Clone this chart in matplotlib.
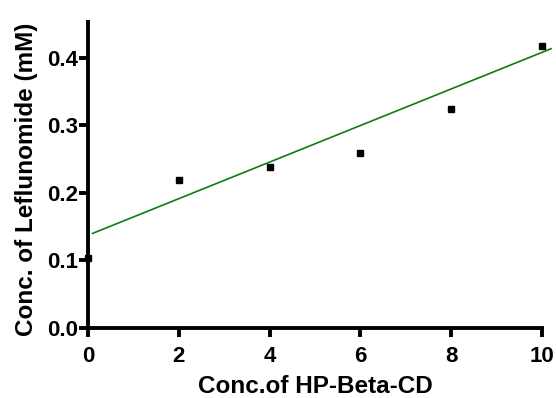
import matplotlib
matplotlib.use("Agg")
import matplotlib.pyplot as plt
import numpy as np

plt.rcParams['font.family'] = ['Liberation Sans', 'DejaVu Sans']

# Measured solubility data
hp_beta_cd = [0, 2, 4, 6, 8, 10]
leflunomide = [0.103, 0.219, 0.238, 0.259, 0.324, 0.417]

# Linear regression line parameters
fit_slope = 0.0271
fit_intercept = 0.137
fit_x_range = [0.1, 10.2]

x_ticks = [0, 2, 4, 6, 8, 10]
y_ticks = [0.0, 0.1, 0.2, 0.3, 0.4]

fig = plt.figure(figsize=(5.56, 3.98), dpi=100)
W, H = 556, 398
x0_px, x10_px = 88, 542
y0_px, top_px = 327.7, 22
px_per_x = (x10_px - x0_px) / 10
xmax = 10.25
ymax = 0.453
ax_w = xmax * px_per_x
ax_h = y0_px - top_px
ax = fig.add_axes([x0_px / W, (H - y0_px) / H, ax_w / W, ax_h / H])

fx = np.array(fit_x_range)
ax.plot(fx, fit_intercept + fit_slope * fx, color='#127a12', lw=1.2, zorder=2)
ax.plot(hp_beta_cd, leflunomide, linestyle='none', marker='s', ms=5,
        color='black', clip_on=False, zorder=3)

ax.set_xlim(0, xmax)
ax.set_ylim(0, ymax)
ax.set_xticks(x_ticks)
ax.set_yticks(y_ticks)
ax.set_yticklabels([f"{v:.1f}" for v in y_ticks])

for side in ('top', 'right'):
    ax.spines[side].set_visible(False)
for side in ('left', 'bottom'):
    ax.spines[side].set_linewidth(2.8)
ax.spines['bottom'].set_bounds(0, 10)

ax.tick_params(axis='both', direction='out', length=6.5, width=2.8,
               labelsize=16)
ax.tick_params(axis='x', pad=7)
ax.tick_params(axis='y', pad=0.5)
for lab in ax.get_xticklabels() + ax.get_yticklabels():
    lab.set_fontweight('bold')

ax.set_xlabel('Conc.of HP-Beta-CD', fontsize=17.5, fontweight='bold')
ax.set_ylabel('Conc. of Leflunomide (mM)', fontsize=17.5, fontweight='bold')
ax.xaxis.set_label_coords(5 / xmax, (y0_px - 375) / ax_h)
ax.yaxis.set_label_coords((38 - x0_px) / ax_w, (y0_px - 179) / ax_h)

fig.savefig('out.png', dpi=100)
